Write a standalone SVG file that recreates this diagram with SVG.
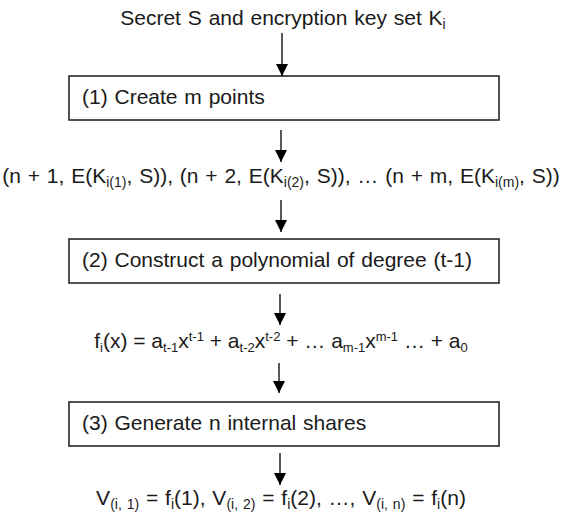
<svg xmlns="http://www.w3.org/2000/svg" width="562" height="525" viewBox="0 0 562 525">
<defs>
<marker id="ah" markerWidth="12" markerHeight="12" refX="10" refY="5" orient="auto" markerUnits="userSpaceOnUse" viewBox="0 0 10 10">
<path d="M0,0 L10,5 L0,10 Z" fill="#000"/>
</marker>
</defs>
<style>
text{font-family:"Liberation Sans",Arial,sans-serif;font-size:21px;fill:#1a1a1a;word-spacing:1px}
.box{fill:#fff;stroke:#1a1a1a;stroke-width:1.5}
.c line{stroke:#000;stroke-width:1.3;marker-end:url(#ah)}
.s{font-size:14px}
.p{word-spacing:0}
.p .s{font-size:13px}
</style>
<rect width="562" height="525" fill="#fff"/>
<g id="input"><text x="283" y="25" text-anchor="middle">Secret S and encryption key set K<tspan class="s" dy="4">i</tspan></text></g>
<g id="step1"><rect class="box" x="69" y="76" width="430" height="44"/><text x="82" y="104">(1) Create m points</text></g>
<g id="points"><text x="281" y="183" text-anchor="middle">(n + 1, E(K<tspan class="s" dy="4">i(1)</tspan><tspan dy="-4">, S)), (n + 2, E(K</tspan><tspan class="s" dy="4">i(2)</tspan><tspan dy="-4">, S)), … (n + m, E(K</tspan><tspan class="s" dy="4">i(m)</tspan><tspan dy="-4">, S))</tspan></text></g>
<g id="step2"><rect class="box" x="69" y="239" width="430" height="44"/><text x="82" y="267">(2) Construct a polynomial of degree (t-1)</text></g>
<g id="poly"><text class="p" x="281" y="348" text-anchor="middle">f<tspan class="s" dy="4">i</tspan><tspan dy="-4">(x) = a</tspan><tspan class="s" dy="4">t-1</tspan><tspan dy="-4">x</tspan><tspan class="s" dy="-7">t-1</tspan><tspan dy="7"> + a</tspan><tspan class="s" dy="4">t-2</tspan><tspan dy="-4">x</tspan><tspan class="s" dy="-7">t-2</tspan><tspan dy="7"> + … a</tspan><tspan class="s" dy="4">m-1</tspan><tspan dy="-4">x</tspan><tspan class="s" dy="-7">m-1</tspan><tspan dy="7"> … + a</tspan><tspan class="s" dy="4">0</tspan></text></g>
<g id="step3"><rect class="box" x="69" y="402" width="430" height="44"/><text x="82" y="430">(3) Generate n internal shares</text></g>
<g id="shares"><text x="281" y="505" text-anchor="middle">V<tspan class="s" dy="4">(i, 1)</tspan><tspan dy="-4"> = f</tspan><tspan class="s" dy="4">i</tspan><tspan dy="-4">(1), V</tspan><tspan class="s" dy="4">(i, 2)</tspan><tspan dy="-4"> = f</tspan><tspan class="s" dy="4">i</tspan><tspan dy="-4">(2), …, V</tspan><tspan class="s" dy="4">(i, n)</tspan><tspan dy="-4"> = f</tspan><tspan class="s" dy="4">i</tspan><tspan dy="-4">(n)</tspan></text></g>
<g class="c" id="connectors">
<line x1="282" y1="33" x2="282" y2="76"/>
<line x1="281" y1="130" x2="281" y2="162"/>
<line x1="281" y1="200" x2="281" y2="232"/>
<line x1="280" y1="294" x2="280" y2="325"/>
<line x1="279" y1="363" x2="279" y2="393"/>
<line x1="280" y1="453" x2="280" y2="485"/>
</g>
</svg>
